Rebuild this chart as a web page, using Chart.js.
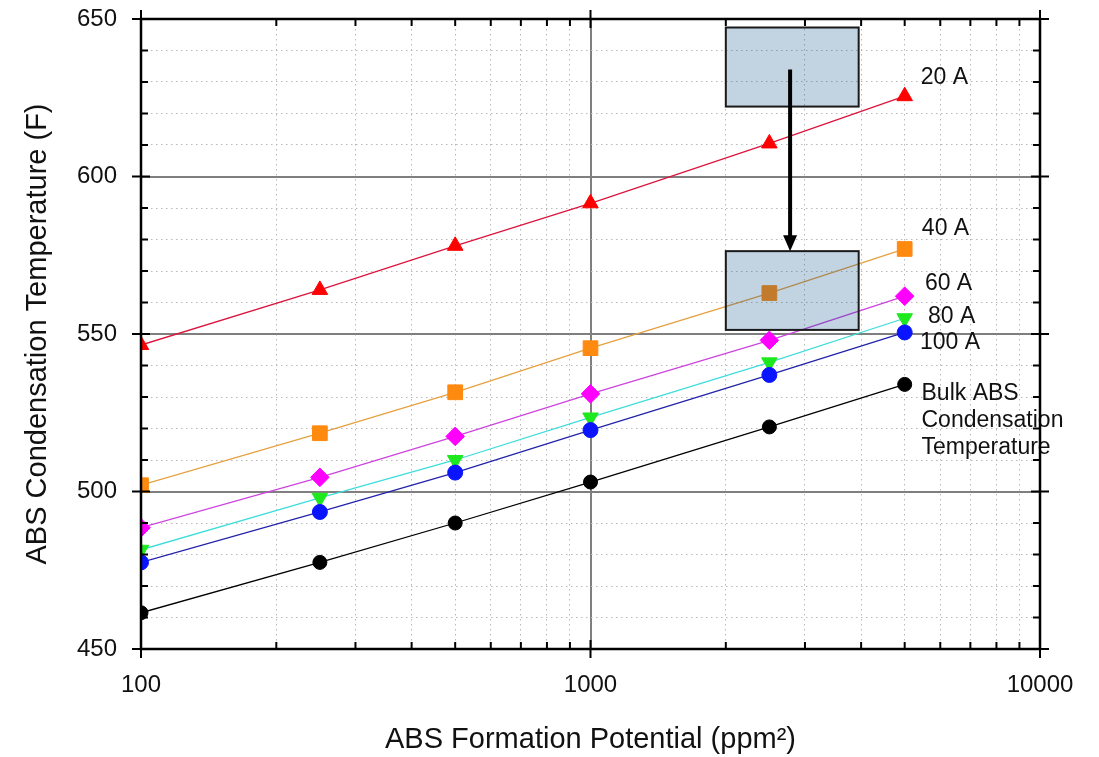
<!DOCTYPE html>
<html><head><meta charset="utf-8">
<script src="https://cdn.jsdelivr.net/npm/chart.js@4.4.1/dist/chart.umd.min.js"></script>
<style>html,body{margin:0;padding:0;background:#fff;}#wrap{width:1099px;height:757px;position:relative;}canvas{display:block}</style>
</head><body><div id="wrap"><canvas id="c"></canvas></div>
<script>
// ---- data ----
const xValues = [100, 250, 500, 1000, 2500, 5000];
const series20A  = [546.5, 564.0, 578.0, 591.5, 610.5, 625.5];
const series40A  = [502.0, 518.5, 531.5, 545.5, 563.0, 577.0];
const series60A  = [488.5, 504.5, 517.5, 531.0, 548.0, 562.0];
const series80A  = [481.5, 498.0, 510.0, 523.5, 541.0, 555.0];
const series100A = [477.5, 493.5, 506.0, 519.5, 537.0, 550.5];
const seriesBulk = [461.5, 477.5, 490.0, 503.0, 520.5, 534.0];
const xMajorTicks = [100, 1000, 10000];
const xMin = 100, xMax = 10000;
const yMin = 450, yMax = 650, yMajorStep = 50, yMinorStep = 10;
const labelTexts = [['20 A'], ['40 A'], ['60 A'], ['80 A'], ['100 A'], ['Bulk ABS', 'Condensation', 'Temperature']];
const labelX = [5430, 5460, 5545, 5634, 5408, 5450];
const labelY = [631.3, 583.6, 566.0, 555.4, 547.1, 531.0];
const boxLeft = [2000, 2000];
const boxRight = [3950, 3950];
const boxTop = [647.3, 576.3];
const boxBottom = [622.2, 551.3];
const arrowX = 2780, arrowFrom = 634, arrowTo = 576.3;

const FONT = '"Liberation Sans", Arial, sans-serif';

function pts(ys) { return xValues.map((x, i) => ({x: x, y: ys[i]})); }

function minorLogTicks() {
  const t = [];
  for (let d = xMin; d < xMax; d *= 10) for (let m = 1; m < 10; m++) t.push({value: m * d});
  t.push({value: xMax});
  return t;
}
function noPad(s) { s.paddingTop = 0; s.paddingBottom = 0; s.paddingLeft = 0; s.paddingRight = 0; }

const decor = {
  id: 'decor',
  afterDatasetsDraw(chart) {
    const ctx = chart.ctx, xs = chart.scales.x, ys = chart.scales.y, a = chart.chartArea;
    ctx.save();
    // shaded boxes
    for (let i = 0; i < boxLeft.length; i++) {
      const l = xs.getPixelForValue(boxLeft[i]), r = xs.getPixelForValue(boxRight[i]);
      const t = ys.getPixelForValue(boxTop[i]), b = ys.getPixelForValue(boxBottom[i]);
      ctx.fillStyle = 'rgba(0,72,132,0.24)';
      ctx.fillRect(l, t, r - l, b - t);
      ctx.strokeStyle = '#1a1a1a'; ctx.lineWidth = 2;
      ctx.strokeRect(l, t, r - l, b - t);
    }
    // arrow
    const ax = xs.getPixelForValue(arrowX), ay1 = ys.getPixelForValue(arrowFrom), ay2 = ys.getPixelForValue(arrowTo);
    ctx.strokeStyle = '#000'; ctx.lineWidth = 4;
    ctx.beginPath(); ctx.moveTo(ax, ay1); ctx.lineTo(ax, ay2 - 14); ctx.stroke();
    ctx.fillStyle = '#000';
    ctx.beginPath(); ctx.moveTo(ax - 7, ay2 - 16); ctx.lineTo(ax + 7, ay2 - 16); ctx.lineTo(ax, ay2); ctx.closePath(); ctx.fill();
    // labels
    ctx.fillStyle = '#111'; ctx.font = '23px ' + FONT; ctx.textAlign = 'left'; ctx.textBaseline = 'middle';
    for (let i = 0; i < labelTexts.length; i++) {
      const lx = xs.getPixelForValue(labelX[i]), ly = ys.getPixelForValue(labelY[i]);
      labelTexts[i].forEach((s, k) => ctx.fillText(s, lx, ly + k * 27));
    }
    // frame
    ctx.strokeStyle = '#000'; ctx.lineWidth = 2.5;
    ctx.strokeRect(a.left, a.top, a.right - a.left, a.bottom - a.top);
    // ticks
    ctx.lineWidth = 2;
    ctx.beginPath();
    chart.scales.y2.ticks.forEach(t => {
      const y = ys.getPixelForValue(t.value);
      const major = (t.value - yMin) % yMajorStep === 0;
      if (major) {
        ctx.moveTo(a.left - 9, y); ctx.lineTo(a.left + 9, y);
        ctx.moveTo(a.right - 9, y); ctx.lineTo(a.right + 9, y);
      } else {
        ctx.moveTo(a.left, y); ctx.lineTo(a.left + 7, y);
        ctx.moveTo(a.right - 7, y); ctx.lineTo(a.right, y);
      }
    });
    chart.scales.x2.ticks.forEach(t => {
      const x = xs.getPixelForValue(t.value);
      const major = xMajorTicks.includes(t.value);
      if (major) {
        ctx.moveTo(x, a.bottom - 9); ctx.lineTo(x, a.bottom + 9);
        ctx.moveTo(x, a.top - 9); ctx.lineTo(x, a.top + 9);
      } else {
        ctx.moveTo(x, a.bottom); ctx.lineTo(x, a.bottom - 7);
        ctx.moveTo(x, a.top); ctx.lineTo(x, a.top + 7);
      }
    });
    ctx.stroke();
    ctx.restore();
  }
};

function ds(label, ys, marker, line, style, radius, rotation) {
  return {
    label: label, data: pts(ys), showLine: true, fill: false, tension: 0,
    borderColor: line, borderWidth: 1.3,
    pointStyle: style, pointRadius: radius, pointHoverRadius: radius, pointRotation: rotation || 0,
    pointBackgroundColor: marker, pointBorderColor: marker, pointBorderWidth: 1
  };
}

new Chart(document.getElementById('c'), {
  type: 'line',
  data: {
    datasets: [
      ds('Bulk ABS Condensation Temperature', seriesBulk, '#000000', '#000000', 'circle', 7),
      ds('100 A', series100A, '#0a14ff', '#2222aa', 'circle', 7.5),
      ds('80 A', series80A, '#1ee81e', '#40dcdc', 'triangle', 9, 180),
      ds('60 A', series60A, '#ff00ff', '#cc44dd', 'rectRot', 9.3),
      ds('40 A', series40A, '#ff8a10', '#e6a040', 'rect', 10.4),
      ds('20 A', series20A, '#ff0000', '#dc143c', 'triangle', 9)
    ]
  },
  options: {
    responsive: true, maintainAspectRatio: false, animation: false,
    layout: {padding: {left: 0, top: 19, right: 59, bottom: 0}},
    plugins: {legend: {display: false}, tooltip: {enabled: false}},
    scales: {
      x2: {
        type: 'logarithmic', min: xMin, max: xMax, position: 'bottom', z: -2,
        afterBuildTicks: s => { s.ticks = minorLogTicks(); },
        afterFit: s => { s.height = 0; noPad(s); },
        ticks: {display: false},
        grid: {color: '#b8b8b8', lineWidth: 1, drawTicks: false},
        border: {display: false, dash: [1.5, 3.5]}
      },
      x: {
        type: 'logarithmic', min: xMin, max: xMax, position: 'bottom', z: -1,
        afterBuildTicks: s => { s.ticks = xMajorTicks.map(v => ({value: v})); },
        afterFit: s => { s.height = 108; noPad(s); },
        ticks: {color: '#111', font: {family: FONT, size: 24}, padding: 22, maxRotation: 0, callback: v => String(v)},
        grid: {color: '#7f7f7f', lineWidth: 2, drawTicks: false},
        border: {display: false},
        title: {display: true, text: 'ABS Formation Potential (ppm²)', color: '#111', font: {family: FONT, size: 29, lineHeight: 1.2}, padding: {top: 0, bottom: 0}}
      },
      y2: {
        type: 'linear', min: yMin, max: yMax, position: 'left', z: -2,
        ticks: {display: false, stepSize: yMinorStep},
        afterFit: s => { s.width = 0; noPad(s); },
        grid: {color: '#b8b8b8', lineWidth: 1, drawTicks: false},
        border: {display: false, dash: [1.5, 3.5]}
      },
      y: {
        type: 'linear', min: yMin, max: yMax, position: 'left', z: -1,
        afterFit: s => { s.width = 141; noPad(s); },
        ticks: {stepSize: yMajorStep, color: '#111', font: {family: FONT, size: 24}, padding: 24},
        grid: {color: '#7f7f7f', lineWidth: 2, drawTicks: false},
        border: {display: false},
        title: {display: true, text: 'ABS Condensation Temperature (F)', color: '#111', font: {family: FONT, size: 29, lineHeight: 1.2}, padding: {top: 21, bottom: 0}}
      }
    }
  },
  plugins: [decor]
});
</script></body></html>
